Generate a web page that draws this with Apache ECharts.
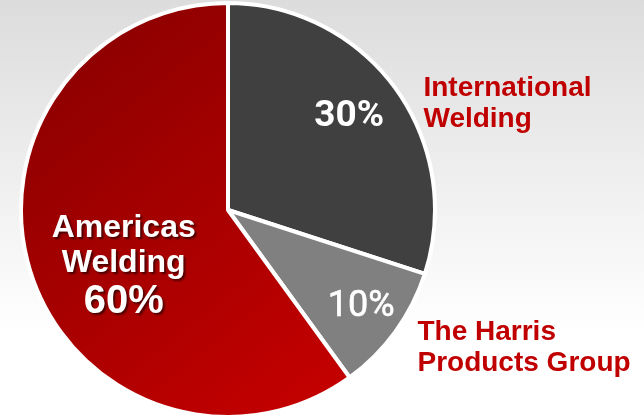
<!DOCTYPE html>
<html>
<head>
<meta charset="utf-8">
<script src="https://cdn.jsdelivr.net/npm/echarts@6/dist/echarts.min.js"></script>
<style>
  html, body { margin: 0; padding: 0; }
  #main { width: 644px; height: 416px; }
</style>
</head>
<body>
<div id="main"></div>
<script>
// segment names and shares (%), clockwise from 12 o'clock
const categories = ['International Welding', 'The Harris Products Group', 'Americas Welding'];
const shares = [30, 10, 60];
const nameLines = ['International\nWelding', 'The Harris\nProducts Group', 'Americas\nWelding'];

const chart = echarts.init(document.getElementById('main'));

// slice fills
const fills = [
  '#404040',
  '#808080',
  new echarts.graphic.LinearGradient(0, 0, 1, 1, [
    { offset: 0, color: '#850000' },
    { offset: 1, color: '#c80000' }
  ])
];

// nudges from the default label anchors
const innerShift = [{ dx: 35, dy: -31 }, { dx: 47, dy: 34 }, { dx: -3, dy: 24 }];
const outerShift = [{ dx: 23, dy: 15 }, { dx: 17, dy: 16 }, { dx: 0, dy: 0 }];

const pctStyle = [
  { fontFamily: 'Roboto', fontWeight: 'bold', fontSize: 37, color: '#ffffff' },
  { fontFamily: 'Roboto', fontWeight: 'normal', fontSize: 36, color: '#ffffff',
    textBorderColor: '#ffffff', textBorderWidth: 0.6 }
];

const shadow = {
  textShadowColor: 'rgba(0,0,0,0.55)', textShadowBlur: 2, textShadowOffsetX: 2, textShadowOffsetY: 2
};

const mainData = categories.map((c, i) => {
  const item = { name: c, value: shares[i], itemStyle: { color: fills[i] } };
  if (i < 2) {
    item.label = Object.assign({ formatter: shares[i] + '%' }, pctStyle[i]);
  } else {
    item.label = {
      formatter: '{n|' + nameLines[i].split('\n').join('}\n{n|') + '}\n{p|' + shares[i] + '%}',
      rich: {
        n: Object.assign({ fontFamily: 'Liberation Sans', fontWeight: 'bold', fontSize: 32, lineHeight: 35, color: '#ffffff' }, shadow),
        p: Object.assign({ fontFamily: 'Liberation Sans', fontWeight: 'bold', fontSize: 40, lineHeight: 43, color: '#ffffff' }, shadow)
      }
    };
  }
  return item;
});

const nameData = categories.map((c, i) => ({
  name: c,
  value: shares[i],
  label: { show: i < 2, formatter: nameLines[i] }
}));

const option = {
  animation: false,
  backgroundColor: {
    type: 'linear', x: 0, y: 0, x2: 0, y2: 1,
    colorStops: [
      { offset: 0, color: '#dcdcdc' },
      { offset: 0.8, color: '#ffffff' },
      { offset: 1, color: '#ffffff' }
    ]
  },
  series: [
    {
      type: 'pie',
      center: [228, 210],
      radius: 207,
      startAngle: 90,
      clockwise: true,
      silent: true,
      emphasis: { disabled: true },
      itemStyle: { borderColor: '#ffffff', borderWidth: 4 },
      label: { show: true, position: 'inside' },
      labelLine: { show: false },
      labelLayout: function (p) { return innerShift[p.dataIndex]; },
      data: mainData
    },
    {
      type: 'pie',
      center: [228, 210],
      radius: 207,
      startAngle: 90,
      clockwise: true,
      silent: true,
      emphasis: { disabled: true },
      itemStyle: { color: 'rgba(0,0,0,0)', borderWidth: 0 },
      label: {
        position: 'outside',
        fontFamily: 'Liberation Sans',
        fontWeight: 'bold',
        fontSize: 28,
        lineHeight: 31,
        color: '#c00000',
        align: 'left'
      },
      labelLine: { show: false, length: 0, length2: 0 },
      labelLayout: function (p) { return outerShift[p.dataIndex]; },
      data: nameData
    }
  ]
};

chart.setOption(option);
</script>
</body>
</html>
